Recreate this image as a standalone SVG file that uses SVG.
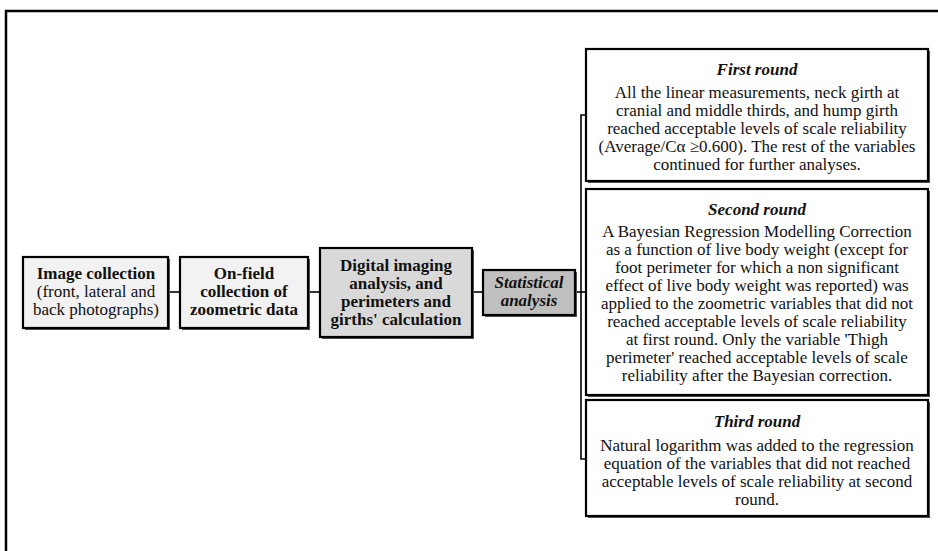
<svg xmlns="http://www.w3.org/2000/svg" width="938" height="551" viewBox="0 0 938 551">
<style>
text{font-family:"Liberation Serif","Times New Roman",serif;font-size:17px;fill:#111;text-anchor:middle}
.b{font-weight:bold}
.bi{font-weight:bold;font-style:italic}
.box{stroke:#000;stroke-width:2.2}
.sh{fill:#555}
.c{stroke:#000;stroke-width:1.6;fill:none}
</style>
<rect x="6" y="11" width="940" height="560" fill="none" stroke="#000" stroke-width="2.5"/>
<g id="connectors">
<line class="c" x1="168" y1="292" x2="180" y2="292"/>
<line class="c" x1="308" y1="292" x2="320" y2="292"/>
<line class="c" x1="472" y1="292" x2="483" y2="292"/>
<line class="c" x1="575" y1="292" x2="586" y2="292"/>
<path class="c" d="M586,115 H581 V459 H586"/>
</g>
<g id="image-collection">
<rect class="sh" x="25" y="259" width="145" height="71"/>
<rect class="box" x="23" y="257" width="145" height="71" fill="#f2f2f2"/>
<text x="96" y="279" class="b">Image collection</text>
<text x="96" y="297">(front, lateral and</text>
<text x="96" y="315">back photographs)</text>
</g>
<g id="on-field">
<rect class="sh" x="182" y="259" width="128" height="71"/>
<rect class="box" x="180" y="257" width="128" height="71" fill="#f2f2f2"/>
<text x="244" y="279" class="b">On-field</text>
<text x="244" y="297" class="b">collection of</text>
<text x="244" y="315" class="b">zoometric data</text>
</g>
<g id="digital-imaging">
<rect class="sh" x="322" y="250" width="152" height="89"/>
<rect class="box" x="320" y="248" width="152" height="89" fill="#d9d9d9"/>
<text x="396" y="271" class="b">Digital imaging</text>
<text x="396" y="289" class="b">analysis, and</text>
<text x="396" y="307" class="b">perimeters and</text>
<text x="396" y="325" class="b">girths' calculation</text>
</g>
<g id="statistical-analysis">
<rect class="sh" x="485" y="272" width="92" height="45"/>
<rect class="box" x="483" y="270" width="92" height="45" fill="#bfbfbf"/>
<text x="529" y="288" class="bi">Statistical</text>
<text x="529" y="306" class="bi">analysis</text>
</g>
<g id="first-round">
<rect class="sh" x="588" y="51" width="342" height="132"/>
<rect class="box" x="586" y="49" width="342" height="132" fill="#fff"/>
<text x="757" y="75" class="bi">First round</text>
<text x="757" y="98">All the linear measurements, neck girth at</text>
<text x="757" y="116">cranial and middle thirds, and hump girth</text>
<text x="757" y="134">reached acceptable levels of scale reliability</text>
<text x="757" y="152">(Average/Cα ≥0.600). The rest of the variables</text>
<text x="757" y="170">continued for further analyses.</text>
</g>
<g id="second-round">
<rect class="sh" x="588" y="191" width="342" height="206"/>
<rect class="box" x="586" y="189" width="342" height="206" fill="#fff"/>
<text x="757" y="215" class="bi">Second round</text>
<text x="757" y="237">A Bayesian Regression Modelling Correction</text>
<text x="757" y="255">as a function of live body weight (except for</text>
<text x="757" y="273">foot perimeter for which a non significant</text>
<text x="757" y="291">effect of live body weight was reported) was</text>
<text x="757" y="309">applied to the zoometric variables that did not</text>
<text x="757" y="327">reached acceptable levels of scale reliability</text>
<text x="757" y="345">at first round. Only the variable 'Thigh</text>
<text x="757" y="363">perimeter' reached acceptable levels of scale</text>
<text x="757" y="381">reliability after the Bayesian correction.</text>
</g>
<g id="third-round">
<rect class="sh" x="588" y="402" width="342" height="116"/>
<rect class="box" x="586" y="400" width="342" height="116" fill="#fff"/>
<text x="757" y="427" class="bi">Third round</text>
<text x="757" y="451">Natural logarithm was added to the regression</text>
<text x="757" y="469">equation of the variables that did not reached</text>
<text x="757" y="487">acceptable levels of scale reliability at second</text>
<text x="757" y="505">round.</text>
</g>
</svg>
